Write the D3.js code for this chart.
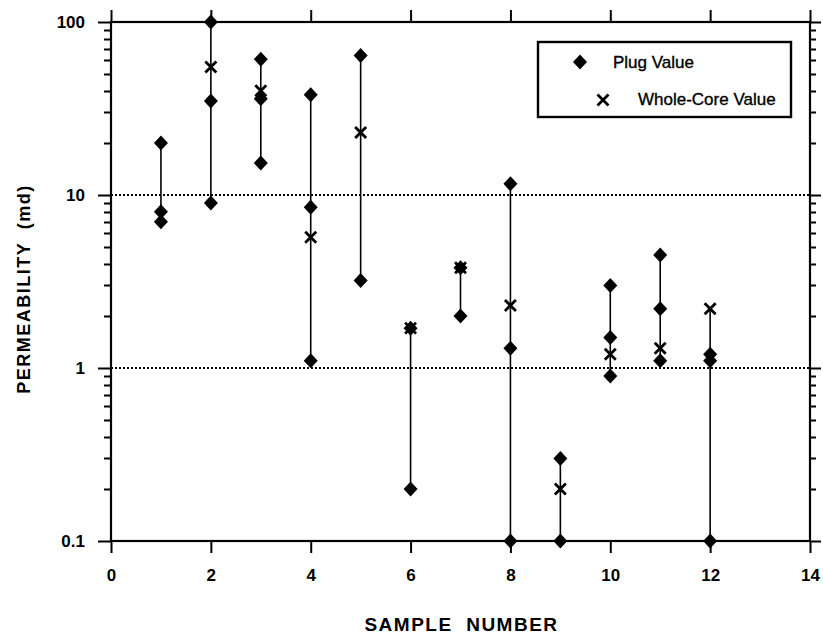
<!DOCTYPE html>
<html>
<head>
<meta charset="utf-8">
<script src="https://cdn.jsdelivr.net/npm/d3@7/dist/d3.min.js"></script>
<style>
  html, body { margin: 0; padding: 0; background: #fff; }
  svg { display: block; }
  text { font-family: "Liberation Sans", Arial, Helvetica, sans-serif; fill: #000; }
</style>
</head>
<body>
<svg id="chart" width="823" height="637"></svg>
<script>
// ---- data ----
const sampleNumbers = [1, 2, 3, 4, 5, 6, 7, 8, 9, 10, 11, 12];
const plugValues = [
  [20, 8, 7],
  [100, 35, 9],
  [61, 36, 15.3],
  [38, 8.5, 1.1],
  [64, 3.2],
  [1.7, 0.2],
  [3.8, 2],
  [11.6, 1.3, 0.1],
  [0.3, 0.1],
  [3.0, 1.5, 0.9],
  [4.5, 2.2, 1.1],
  [1.2, 1.1, 0.1]
];
const wholeCoreValues = [null, 55, 40, 5.7, 23, 1.7, 3.8, 2.3, 0.2, 1.2, 1.3, 2.2];
const xTickValues = [0, 2, 4, 6, 8, 10, 12, 14];
const yTickValues = [0.1, 1, 10, 100];
const yTickLabels = ["0.1", "1", "10", "100"];
const yMinorTicks = [0.2, 0.3, 0.4, 0.5, 0.6, 0.7, 0.8, 0.9,
                     2, 3, 4, 5, 6, 7, 8, 9,
                     20, 30, 40, 50, 60, 70, 80, 90];
const gridValues = [1, 10];
const legendLabels = ["Plug Value", "Whole-Core Value"];
const xTitle = "SAMPLE  NUMBER";
const yTitle = "PERMEABILITY  (md)";

// ---- layout ----
const svg = d3.select("#chart");
const plotL = 111, plotR = 810, plotT = 22, plotB = 541;
const x = d3.scaleLinear().domain([0, 14]).range([plotL, plotR]);
const y = d3.scaleLog().domain([0.1, 100]).range([plotB, plotT]);

function styleAxis(g) {
  g.select(".domain").remove();
  g.selectAll(".tick line").attr("stroke", "#000").attr("stroke-width", 2);
  g.selectAll(".tick text").attr("font-size", 17).attr("font-weight", "bold")
    .attr("font-family", "'Liberation Sans', Arial, Helvetica, sans-serif");
}

// dotted grid lines
svg.append("g").selectAll("line").data(gridValues).join("line")
  .attr("x1", plotL).attr("x2", plotR)
  .attr("y1", d => y(d)).attr("y2", d => y(d))
  .attr("stroke", "#000").attr("stroke-width", 2)
  .attr("stroke-dasharray", "2,2");

// minor ticks on left and right (drawn from the y scale)
const minorG = svg.append("g").attr("stroke", "#000").attr("stroke-width", 2);
minorG.selectAll("line.ml").data(yMinorTicks).join("line").attr("class", "ml")
  .attr("x1", plotL - 7).attr("x2", plotL)
  .attr("y1", d => Math.round(y(d)) + 0.5).attr("y2", d => Math.round(y(d)) + 0.5);
minorG.selectAll("line.mr").data(yMinorTicks).join("line").attr("class", "mr")
  .attr("x1", plotR).attr("x2", plotR + 6)
  .attr("y1", d => Math.round(y(d)) + 0.5).attr("y2", d => Math.round(y(d)) + 0.5);

// left axis: major ticks with labels
svg.append("g").attr("transform", `translate(${plotL},0)`)
  .call(d3.axisLeft(y).tickValues(yTickValues).tickSize(13).tickPadding(13)
    .tickFormat((d, i) => yTickLabels[i]))
  .call(styleAxis);

// right axis: major ticks
svg.append("g").attr("transform", `translate(${plotR},0)`)
  .call(d3.axisRight(y).tickValues(yTickValues).tickSize(11).tickFormat(() => ""))
  .call(styleAxis);

// bottom axis
svg.append("g").attr("transform", `translate(0,${plotB})`)
  .call(d3.axisBottom(x).tickValues(xTickValues).tickSize(12).tickPadding(16)
    .tickFormat(d3.format("d")))
  .call(styleAxis);

// top axis
svg.append("g").attr("transform", `translate(0,${plotT})`)
  .call(d3.axisTop(x).tickValues(xTickValues).tickSize(12).tickFormat(() => ""))
  .call(styleAxis);

// frame
svg.append("rect")
  .attr("x", plotL).attr("y", plotT)
  .attr("width", plotR - plotL).attr("height", plotB - plotT)
  .attr("fill", "none").attr("stroke", "#000").attr("stroke-width", 2.2);

// range lines (min..max of all values per sample)
const ranges = sampleNumbers.map((s, i) => {
  const vals = plugValues[i].concat(wholeCoreValues[i] == null ? [] : [wholeCoreValues[i]]);
  return { s, lo: d3.min(vals), hi: d3.max(vals) };
});
svg.append("g").selectAll("line").data(ranges).join("line")
  .attr("x1", d => x(d.s)).attr("x2", d => x(d.s))
  .attr("y1", d => y(d.hi)).attr("y2", d => y(d.lo))
  .attr("stroke", "#000").attr("stroke-width", 1.6);

// diamonds
const diamond = "M0,-7.5L7,0L0,7.5L-7,0Z";
const plugPts = [];
sampleNumbers.forEach((s, i) => plugValues[i].forEach(v => plugPts.push({ s, v })));
svg.append("g").selectAll("path").data(plugPts).join("path")
  .attr("d", diamond)
  .attr("transform", d => `translate(${x(d.s)},${y(d.v)})`)
  .attr("fill", "#000");

// crosses
const cross = "M-5.5,-5.5L5.5,5.5M-5.5,5.5L5.5,-5.5";
const wcPts = sampleNumbers.map((s, i) => ({ s, v: wholeCoreValues[i] })).filter(d => d.v != null);
svg.append("g").selectAll("path").data(wcPts).join("path")
  .attr("d", cross)
  .attr("transform", d => `translate(${x(d.s)},${y(d.v)})`)
  .attr("stroke", "#000").attr("stroke-width", 2.8).attr("fill", "none");

// legend
const lg = svg.append("g");
lg.append("rect").attr("x", 538).attr("y", 42).attr("width", 253).attr("height", 75)
  .attr("fill", "#fff").attr("stroke", "#000").attr("stroke-width", 2.4);
lg.append("path").attr("d", diamond).attr("transform", "translate(580,62)").attr("fill", "#000");
lg.append("path").attr("d", cross).attr("transform", "translate(603,100)")
  .attr("stroke", "#000").attr("stroke-width", 2.8).attr("fill", "none");
lg.append("text").attr("x", 613).attr("y", 68).attr("font-size", 17)
  .attr("stroke", "#000").attr("stroke-width", 0.35).text(legendLabels[0]);
lg.append("text").attr("x", 638).attr("y", 105).attr("font-size", 17)
  .attr("stroke", "#000").attr("stroke-width", 0.35).text(legendLabels[1]);

// axis titles
svg.append("text")
  .attr("x", (plotL + plotR) / 2 + 1).attr("y", 631)
  .attr("text-anchor", "middle").attr("font-size", 19).attr("font-weight", "bold")
  .attr("letter-spacing", 1.5).style("white-space", "pre")
  .text(xTitle);
svg.append("text")
  .attr("transform", `translate(30,289) rotate(-90)`)
  .attr("text-anchor", "middle").attr("font-size", 18).attr("font-weight", "bold")
  .attr("letter-spacing", 1.5).style("white-space", "pre")
  .text(yTitle);
</script>
</body>
</html>
